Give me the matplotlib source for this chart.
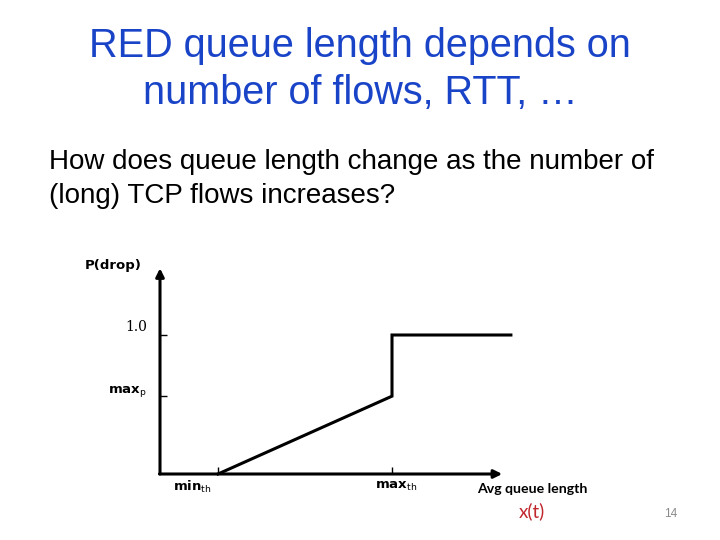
import matplotlib
matplotlib.use("Agg")
import matplotlib.pyplot as plt

# Data (queue length units, drop probability)
min_th = 1.0
max_th = 4.0
max_p = 0.56
q_end = 6.05
curve_x = [min_th, max_th, max_th, q_end]
curve_y = [0.0, max_p, 1.0, 1.0]
y_tick_vals = [max_p, 1.0]
y_tick_labels = ["max$_\\mathrm{p}$", "1.0"]
x_tick_vals = [min_th, max_th]
x_tick_labels = ["min$_\\mathrm{th}$", "max$_\\mathrm{th}$"]

fig = plt.figure(figsize=(7.2, 5.4), dpi=100)
fig.patch.set_facecolor("white")

W, H = 720, 540
def fx(px): return px / W
def fy(py): return 1 - py / H

# Title and body text
fig.text(0.5, fy(46), "RED queue length depends on", ha="center", va="center",
         fontsize=28.5, color="#1a44c8", family="Liberation Sans")
fig.text(0.5, fy(93), "number of flows, RTT, …", ha="center", va="center",
         fontsize=28.5, color="#1a44c8", family="Liberation Sans")
fig.text(fx(49), fy(162), "How does queue length change as the number of",
         ha="left", va="center", fontsize=20, color="black", family="Liberation Sans")
fig.text(fx(49), fy(196), "(long) TCP flows increases?",
         ha="left", va="center", fontsize=20, color="black", family="Liberation Sans")

# Axes placed so that data origin sits at pixel (160, 474)
px_per_x = 58.0
px_per_y = 139.0
xmax, ymax = 6.6, 1.6
ax = fig.add_axes([fx(160), (H - 474) / H, xmax * px_per_x / W, ymax * px_per_y / H])
ax.set_xlim(0, xmax)
ax.set_ylim(0, ymax)
for s in ax.spines.values():
    s.set_visible(False)
ax.patch.set_alpha(0)

ax.plot(curve_x, curve_y, color="black", lw=2.2, solid_joinstyle="miter", clip_on=False)

# Axis arrows
ax.annotate("", xy=(0, 1.48), xytext=(0, 0),
            arrowprops=dict(arrowstyle="-|>", lw=2.2, color="black", mutation_scale=12,
                            shrinkA=0, shrinkB=0))
ax.annotate("", xy=(5.9, 0), xytext=(-0.01, 0),
            arrowprops=dict(arrowstyle="-|>", lw=2.2, color="black", mutation_scale=12,
                            shrinkA=0, shrinkB=0))

ax.set_yticks(y_tick_vals)
ax.set_yticklabels([])
ax.set_xticks(x_tick_vals)
ax.set_xticklabels([])
ax.tick_params(direction="in", length=5, width=1, color="black")

# tick labels drawn as text
ax.text(-0.22, 1.0 + 0.06, y_tick_labels[1], ha="right", va="center",
        fontsize=10, family="DejaVu Serif")
ax.text(-0.22, max_p + 0.03, y_tick_labels[0], ha="right", va="center",
        fontsize=9.5, fontweight="bold", family="DejaVu Sans")
ax.text(0.55, -0.09, x_tick_labels[0], ha="center", va="center",
        fontsize=9.5, fontweight="bold", family="DejaVu Sans")
ax.text(4.07, -0.09, x_tick_labels[1], ha="center", va="center",
        fontsize=9.5, fontweight="bold", family="DejaVu Sans")
ax.text(-0.81, 1.50, "P(drop)", ha="center", va="center",
        fontsize=9.5, fontweight="bold", family="DejaVu Sans")

fig.text(fx(532), fy(489), "Avg queue length", ha="center", va="center",
         fontsize=10.2, fontweight="bold", family="Lato")
fig.text(fx(532), fy(511), "x(t)", ha="center", va="center",
         fontsize=13.5, color="#c0282d", family="Lato")
fig.text(fx(671), fy(514), "14", ha="center", va="center",
         fontsize=8.5, color="#8a8a8a", family="Liberation Sans")

fig.savefig("out.png", dpi=100)
